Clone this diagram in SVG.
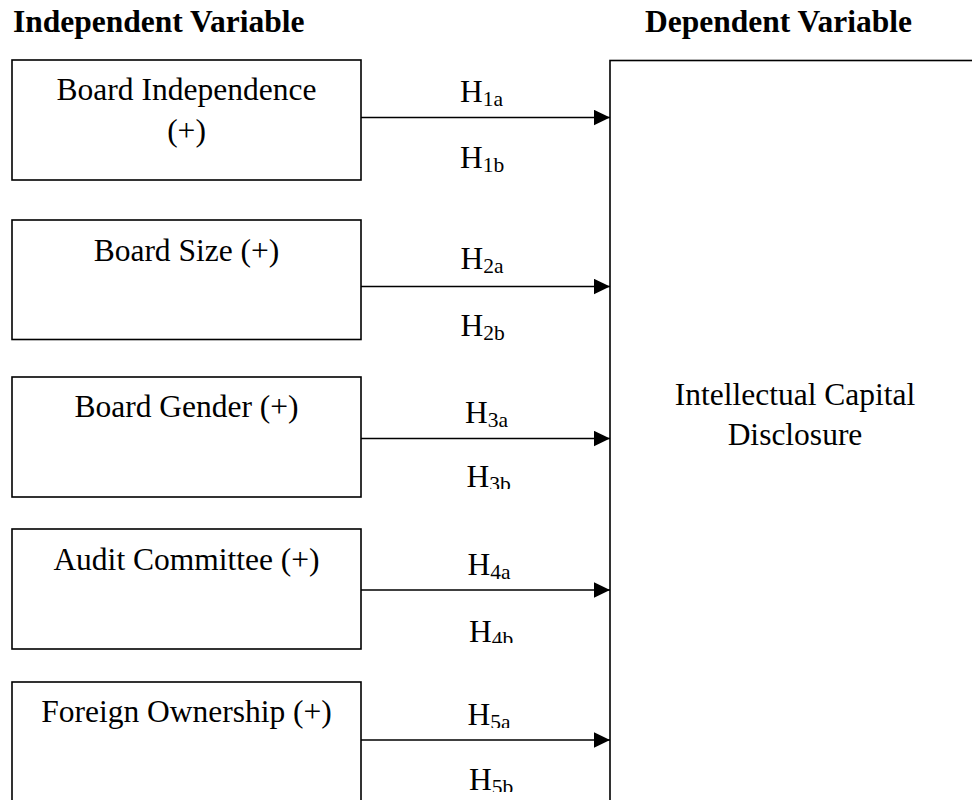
<svg xmlns="http://www.w3.org/2000/svg" width="972" height="800" viewBox="0 0 972 800">
<style>
text{font-family:"Liberation Serif","Times New Roman",serif;font-size:31.5px;fill:#000}
.hd{font-weight:bold}
.box{fill:#fff;stroke:#000;stroke-width:1.6}
.ctr{text-anchor:middle}
.sub{font-size:21.5px}
.conn line{stroke:#000;stroke-width:1.5}
</style>
<defs>
<marker id="ah" markerUnits="userSpaceOnUse" markerWidth="16" markerHeight="16" viewBox="0 0 16 16" refX="16" refY="8" orient="auto">
<path d="M0,0.3 L16,8 L0,15.7 Z" fill="#000"/>
</marker>
<clipPath id="c3a"><rect x="440" y="380" width="100" height="47"/></clipPath>
<clipPath id="c3b"><rect x="440" y="450" width="100" height="39"/></clipPath>
<clipPath id="c4a"><rect x="440" y="540" width="100" height="39"/></clipPath>
<clipPath id="c4b"><rect x="440" y="600" width="100" height="43"/></clipPath>
<clipPath id="c5a"><rect x="440" y="690" width="100" height="38"/></clipPath>
<clipPath id="c5b"><rect x="440" y="750" width="100" height="42"/></clipPath>
</defs>
<g id="headers">
<text class="hd" x="13" y="32">Independent Variable</text>
<text class="hd" x="645" y="32">Dependent Variable</text>
</g>
<g id="icd">
<rect class="box" x="610" y="60.5" width="380" height="760"/>
<text class="ctr" x="795" y="405">Intellectual Capital</text>
<text class="ctr" x="795" y="445">Disclosure</text>
</g>
<g id="board-independence">
<rect class="box" x="12" y="60" width="349" height="120"/>
<text class="ctr" x="186.5" y="100">Board Independence</text>
<text class="ctr" x="186.5" y="141">(+)</text>
</g>
<g id="board-size">
<rect class="box" x="12" y="220" width="349" height="119.5"/>
<text class="ctr" x="186.5" y="261">Board Size (+)</text>
</g>
<g id="board-gender">
<rect class="box" x="12" y="377" width="349" height="120"/>
<text class="ctr" x="186.5" y="417">Board Gender (+)</text>
</g>
<g id="audit-committee">
<rect class="box" x="12" y="529" width="349" height="120"/>
<text class="ctr" x="186.5" y="570">Audit Committee (+)</text>
</g>
<g id="foreign-ownership">
<rect class="box" x="12" y="682" width="349" height="160"/>
<text class="ctr" x="186.5" y="722">Foreign Ownership (+)</text>
</g>
<g id="connectors" class="conn">
<line x1="361" y1="117.5" x2="610" y2="117.5" marker-end="url(#ah)"/>
<line x1="361" y1="286.5" x2="610" y2="286.5" marker-end="url(#ah)"/>
<line x1="361" y1="438.5" x2="610" y2="438.5" marker-end="url(#ah)"/>
<line x1="361" y1="590" x2="610" y2="590" marker-end="url(#ah)"/>
<line x1="361" y1="740" x2="610" y2="740" marker-end="url(#ah)"/>
</g>
<g id="labels">
<text x="460" y="102">H<tspan class="sub" dy="4">1a</tspan></text>
<text x="460" y="168">H<tspan class="sub" dy="4">1b</tspan></text>
<text x="460.5" y="269">H<tspan class="sub" dy="4">2a</tspan></text>
<text x="460.5" y="336">H<tspan class="sub" dy="4">2b</tspan></text>
<text x="465" y="423" clip-path="url(#c3a)">H<tspan class="sub" dy="4">3a</tspan></text>
<text x="466.5" y="487" clip-path="url(#c3b)">H<tspan class="sub" dy="4">3b</tspan></text>
<text x="467.5" y="575" clip-path="url(#c4a)">H<tspan class="sub" dy="4">4a</tspan></text>
<text x="469" y="642" clip-path="url(#c4b)">H<tspan class="sub" dy="4">4b</tspan></text>
<text x="467.5" y="725" clip-path="url(#c5a)">H<tspan class="sub" dy="4">5a</tspan></text>
<text x="469" y="790" clip-path="url(#c5b)">H<tspan class="sub" dy="4">5b</tspan></text>
</g>
</svg>
